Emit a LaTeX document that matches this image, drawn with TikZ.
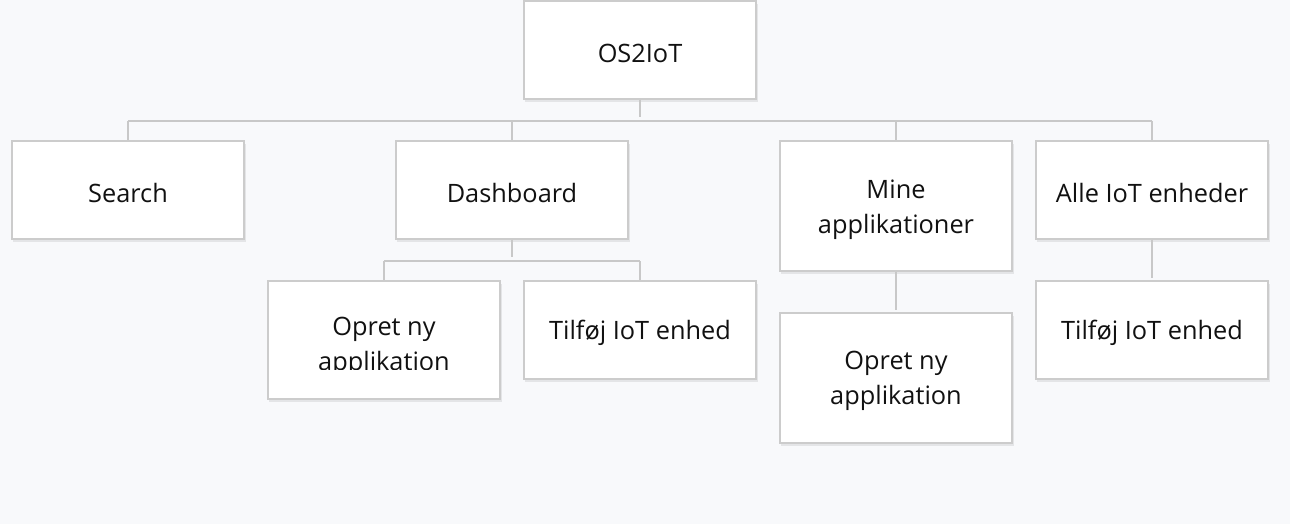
\documentclass[tikz,border=0pt]{standalone}
\usepackage{fontspec}
\setmainfont{Open Sans}
\usetikzlibrary{shadows}
\definecolor{bg}{HTML}{F8F9FB}
\definecolor{boxline}{HTML}{CCCCCC}
\definecolor{conn}{HTML}{C8C8C8}
\definecolor{txt}{HTML}{111111}
\tikzset{
  box/.style={draw=boxline, line width=1.5pt, fill=white,
    minimum width=174.5pt, minimum height=#1, inner sep=0pt,
    drop shadow={shadow xshift=1pt, shadow yshift=-2.5pt, opacity=0.08, fill=black}},
  box/.default=73.5pt,
  lbl/.style={text=txt, inner sep=0pt, align=center, font=\fontsize{19}{26.3}\selectfont},
  conn/.style={draw=conn, line width=1.5pt}
}
\begin{document}
\begin{tikzpicture}[x=0.75pt, y=-0.75pt]
\fill[bg] (0,0) rectangle (1290,524);
\useasboundingbox (0,0) rectangle (1290,524);

% nodes
\node[box, label={[lbl, yshift=-2.25pt]center:OS2IoT}] (root) at (640,50) {};
\node[box, label={[lbl, yshift=-2.25pt]center:Search}] (search) at (128,190) {};
\node[box, label={[lbl, yshift=-2.25pt]center:Dashboard}] (dash) at (512,190) {};
\node[box=97.5pt, label={[lbl, yshift=-3pt]center:{Mine \\ applikationer}}] (mine) at (896,206) {};
\node[box, label={[lbl, yshift=-2.25pt]center:Alle IoT enheder}] (alle) at (1152,190) {};
\node[box=88.5pt] (opret1) at (384,340) {};
\node[box, label={[lbl, yshift=-2.25pt]center:Tilføj IoT enhed}] (tilfoj1) at (640,330) {};
\node[box=97.5pt, label={[lbl, yshift=-2.25pt]center:{Opret ny \\ applikation}}] (opret2) at (896,378) {};
\node[box, label={[lbl, yshift=-2.25pt]center:Tilføj IoT enhed}] (tilfoj2) at (1152,330) {};

\begin{scope}
\clip (267,283) rectangle (501,369);
\node[lbl] (opret1txt) at (384,347) {Opret ny \\ applikation};
\end{scope}

% connectors
\coordinate (rootstem) at (640,117);
\coordinate (dashstem) at (512,257);
\coordinate (minestem) at (896,310);
\coordinate (allestem) at (1152,278);
\coordinate (h1) at (640,121);
\coordinate (h2) at (512,261);

\draw[conn] (root.south) -- (rootstem);
\draw[conn] (search.north |- h1) -- (alle.north |- h1);
\draw[conn] (search.north) -- (search.north |- h1);
\draw[conn] (dash.north) -- (dash.north |- h1);
\draw[conn] (mine.north) -- (mine.north |- h1);
\draw[conn] (alle.north) -- (alle.north |- h1);
\draw[conn] (dash.south) -- (dashstem);
\draw[conn] (opret1.north |- h2) -- (tilfoj1.north |- h2);
\draw[conn] (opret1.north) -- (opret1.north |- h2);
\draw[conn] (tilfoj1.north) -- (tilfoj1.north |- h2);
\draw[conn] (mine.south) -- (minestem);
\draw[conn] (alle.south) -- (allestem);
\end{tikzpicture}
\end{document}
